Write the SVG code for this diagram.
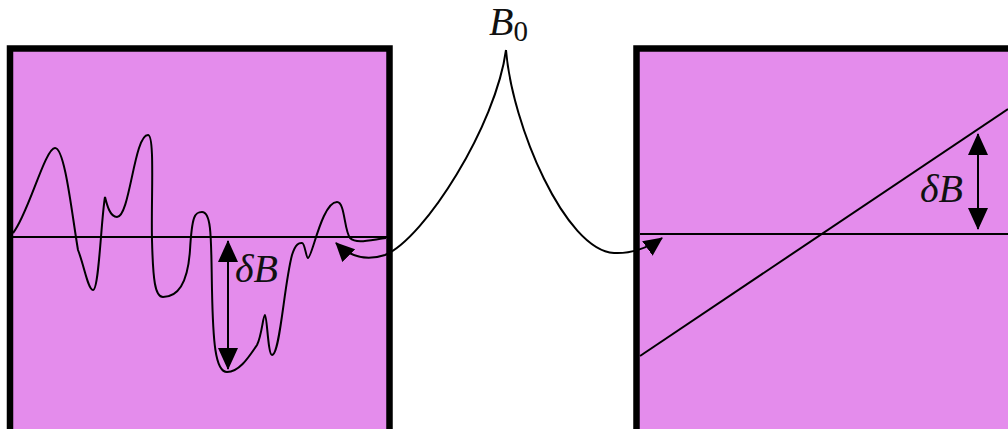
<svg xmlns="http://www.w3.org/2000/svg" width="1008" height="429" viewBox="0 0 1008 429">
<style>
.panel{fill:#e48cec;stroke:#000;stroke-width:6.5}
.ln{fill:none;stroke:#000;stroke-width:2}
.lbl{font-family:"Liberation Serif",serif;font-style:italic;font-size:40px;fill:#111}
</style>
<defs>
<marker id="ah" viewBox="0 0 19 18" refX="18" refY="9" markerWidth="19" markerHeight="18" orient="auto" markerUnits="userSpaceOnUse"><path d="M0,0 L19,9 L0,18 Z" fill="#000"/></marker>
<marker id="db" viewBox="0 0 22 20" refX="21" refY="10" markerWidth="22" markerHeight="20" orient="auto-start-reverse" markerUnits="userSpaceOnUse"><path d="M0,0 L22,10 L0,20 Z" fill="#000"/></marker>
</defs>
<g id="left-panel">
<rect class="panel" x="10" y="48.5" width="379.5" height="400"/>
<line class="ln" x1="13" y1="237" x2="387" y2="237"/>
<path class="ln" d="M13,233 C28,215 45,148 55,148 C65,148 72,215 78,250 C84,265 88,290 93,290 C99,290 101,220 105,197 C107,205 110,217 117,217 C130,217 134,135 148,135 C155,135 151,200 152,240 C153,280 155,297 163,297 C180,297 188,280 190,250 C192,215 195,212 202,212 C212,212 211,240 212,290 C213,340 215,372 227,372 C240,372 250,355 257,345 C262,335 263,315 265,315 C267,315 268,355 272,355 C280,355 284,285 292,255 C296,242 300,243 302,243 C305,243 306,258 308,258 C312,258 322,202 337,202 C345,202 344,230 350,238 C356,244 370,240 386,238"/>
<line class="ln" x1="228" y1="241" x2="228" y2="369" marker-start="url(#db)" marker-end="url(#db)"/>
<text class="lbl" x="235" y="282">δB</text>
</g>
<g id="right-panel">
<rect class="panel" x="636.5" y="48.5" width="400" height="400"/>
<line class="ln" x1="640" y1="234" x2="1008" y2="234"/>
<line class="ln" x1="640" y1="356" x2="1008" y2="109"/>
<line class="ln" x1="978" y1="134" x2="978" y2="229" marker-start="url(#db)" marker-end="url(#db)"/>
<text class="lbl" x="920" y="202">δB</text>
</g>
<g id="label-B0">
<text class="lbl" x="489" y="35">B<tspan font-style="normal" font-size="29" dy="6">0</tspan></text>
</g>
<g id="connectors">
<path class="ln" d="M506,50 C496,125 425,238 385,255 C370,260 352,259 336,243" marker-end="url(#ah)"/>
<path class="ln" d="M506,50 C512,125 565,250 614,253 C630,254 648,248 662,238" marker-end="url(#ah)"/>
</g>
</svg>
